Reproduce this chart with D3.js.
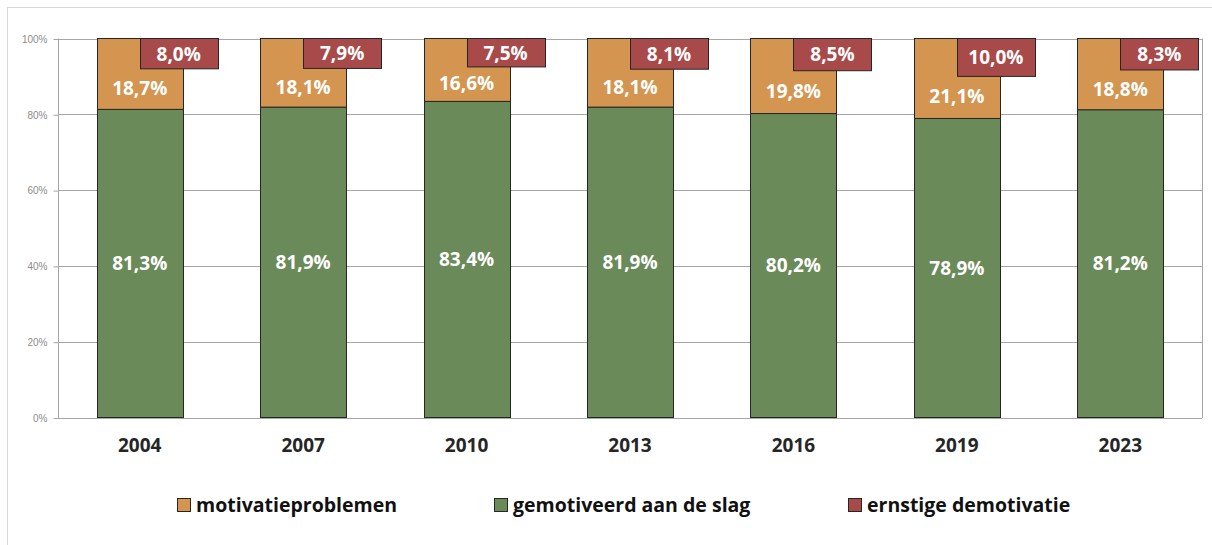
<!DOCTYPE html>
<html>
<head>
<meta charset="utf-8">
<script src="https://cdn.jsdelivr.net/npm/d3@7"></script>
<style>
  body { margin: 0; background: #fff; }
  svg { display: block; font-family: "Open Sans", sans-serif; }
</style>
</head>
<body>
<script>
// data
const years = ["2004", "2007", "2010", "2013", "2016", "2019", "2023"]
const gemotiveerd = [81.3, 81.9, 83.4, 81.9, 80.2, 78.9, 81.2]
const motivatieproblemen = [18.7, 18.1, 16.6, 18.1, 19.8, 21.1, 18.8]
const ernstigeDemotivatie = [8.0, 7.9, 7.5, 8.1, 8.5, 10.0, 8.3]
const yTicks = [0, 20, 40, 60, 80, 100]
const legendItems = [
    { name: "motivatieproblemen", color: "#d3954f" },
    { name: "gemotiveerd aan de slag", color: "#6b8a59" },
    { name: "ernstige demotivatie", color: "#a84a4a" }
]

const width = 1212, height = 545
const plot = { left: 58, right: 1202, top: 38.5, bottom: 417.5 }

const svg = d3.select("body").append("svg")
    .attr("width", width).attr("height", height)

// outer chart border
svg.append("rect")
    .attr("x", 7.5).attr("y", 7.5)
    .attr("width", width).attr("height", height)
    .attr("fill", "none").attr("stroke", "#d9d9d9")

let xScale = d3.scaleBand().domain(years).range([plot.left, plot.right])
let yScale = d3.scaleLinear().domain([0, 100]).range([plot.bottom, plot.top])
let fmt = v => v.toFixed(1).replace(".", ",") + "%"

let barW = 86, redW = 78

// gridlines
svg.append("g").selectAll("line").data(yTicks).enter().append("line")
    .attr("x1", plot.left).attr("x2", plot.right)
    .attr("y1", d => Math.round(yScale(d)) + 0.5).attr("y2", d => Math.round(yScale(d)) + 0.5)
    .attr("stroke", "#a6a6a6").attr("stroke-width", 1)

// plot area sides
svg.append("line").attr("x1", plot.left + 0.5).attr("x2", plot.left + 0.5)
    .attr("y1", plot.top).attr("y2", plot.bottom + 0.5).attr("stroke", "#a6a6a6")
svg.append("line").attr("x1", plot.right + 0.5).attr("x2", plot.right + 0.5)
    .attr("y1", plot.top).attr("y2", plot.bottom + 0.5).attr("stroke", "#a6a6a6")

// y axis
let yAxis = d3.axisLeft(yScale).tickValues(yTicks).tickFormat(d => d + "%").tickSize(5).tickPadding(6)
let yg = svg.append("g").attr("transform", "translate(" + (plot.left + 0.5) + ",0.5)").call(yAxis)
yg.select(".domain").remove()
yg.selectAll("line").attr("stroke", "#a6a6a6")
yg.selectAll("text").attr("fill", "#8c8c8c").style("font-size", "10px")

let bars = svg.append("g")
years.forEach(function (yr, i) {
    let cx = xScale(yr) + xScale.bandwidth() / 2
    let g0 = gemotiveerd[i], m = motivatieproblemen[i], r = ernstigeDemotivatie[i]
    // green
    bars.append("rect")
        .attr("x", Math.round(cx - barW / 2) + 0.5).attr("y", yScale(g0))
        .attr("width", barW).attr("height", yScale(0) - yScale(g0))
        .attr("fill", "#6b8a59").attr("stroke", "#262626")
    // orange
    bars.append("rect")
        .attr("x", Math.round(cx - barW / 2) + 0.5).attr("y", yScale(g0 + m))
        .attr("width", barW).attr("height", yScale(g0) - yScale(g0 + m))
        .attr("fill", "#d3954f").attr("stroke", "#262626")
    // red, overlapping from the bar centre
    bars.append("rect")
        .attr("x", Math.round(cx) + 0.5).attr("y", yScale(100))
        .attr("width", redW).attr("height", yScale(100 - r) - yScale(100))
        .attr("fill", "#a84a4a").attr("stroke", "#262626")

    let lbl = (x, y, v) => bars.append("text")
        .attr("x", x).attr("y", y).attr("dy", "0.36em")
        .attr("text-anchor", "middle").attr("fill", "#fff")
        .style("font-size", "19px").style("font-weight", "bold")
        .text(fmt(v))
    lbl(cx, (yScale(0) + yScale(g0)) / 2, g0)
    lbl(cx, (yScale(g0) + yScale(100 - r)) / 2 - 1, m)
    lbl(cx + redW / 2, (yScale(100) + yScale(100 - r)) / 2, r)
})

// x axis labels
let xAxis = d3.axisBottom(xScale).tickSize(0).tickPadding(21)
let xg = svg.append("g").attr("transform", "translate(0," + plot.bottom + ")").call(xAxis)
xg.select(".domain").remove()
xg.selectAll("text").attr("fill", "#262626")
    .style("font-size", "19px").style("font-weight", "bold").style("font-family", "Open Sans, sans-serif")

// legend
let legendX = [177, 494, 848]
let legend = svg.append("g")
legendItems.forEach(function (d, i) {
    legend.append("rect")
        .attr("x", legendX[i] + 0.5).attr("y", 498.5)
        .attr("width", 13).attr("height", 13)
        .attr("fill", d.color).attr("stroke", "#262626")
    legend.append("text")
        .attr("x", legendX[i] + 19).attr("y", 505).attr("dy", "0.36em")
        .attr("fill", "#111")
        .style("font-size", "19.5px").style("font-weight", "bold")
        .text(d.name)
})
</script>
</body>
</html>
